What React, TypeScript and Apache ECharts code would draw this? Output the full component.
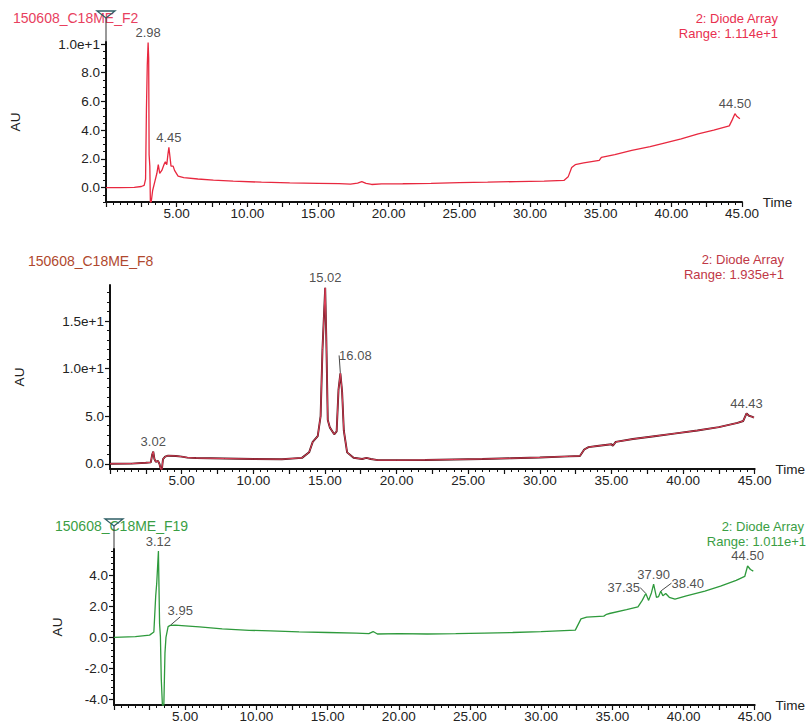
import React, { useEffect, useRef } from "react";
import * as echarts from "echarts";

const FONT = "'Liberation Sans', Arial, sans-serif";

// ---- tick labels ----
const X_LABELS = [5, 10, 15, 20, 25, 30, 35, 40, 45];
const F2_Y_LABELS = [0, 2, 4, 6, 8, 10];
const F8_Y_LABELS = [0, 5, 10, 15];
const F19_Y_LABELS = [-4, -2, 0, 2, 4];

// ---- peak labels (retention times) ----
const F2_PEAKS = [2.98, 4.45, 44.5];
const F8_PEAKS = [3.02, 15.02, 16.08, 44.43];
const F19_PEAKS = [3.12, 3.95, 37.35, 37.9, 38.4, 44.5];

// ---- traces [time (min), AU] ----
const F2_TRACE = [
  [0, 0.0], [1, 0.0], [2, 0.02], [2.5, 0.08], [2.7, 0.15], [2.8, 0.6], [2.86, 5.4], [2.92, 8.5],
  [2.98, 10.1], [3.02, 9.0], [3.05, 2.3], [3.1, 1.5], [3.14, -1.0], [3.2, -1.0], [3.3, -0.2],
  [3.45, 0.4], [3.6, 1.0], [3.7, 1.6], [3.8, 1.0], [3.95, 1.2], [4.1, 1.6], [4.2, 1.8], [4.3, 1.6],
  [4.38, 2.3], [4.45, 2.8], [4.52, 2.2], [4.6, 1.5], [4.75, 1.5], [4.85, 1.2], [5.1, 0.8], [5.5, 0.7],
  [6.5, 0.6], [7.6, 0.52], [9, 0.45], [11, 0.38], [13, 0.33], [15, 0.3], [16.5, 0.28], [17.3, 0.25],
  [17.8, 0.32], [18.1, 0.42], [18.4, 0.3], [18.8, 0.22], [19.5, 0.26], [21, 0.27], [23, 0.3],
  [25, 0.35], [27, 0.38], [29, 0.42], [31, 0.46], [32.4, 0.5], [32.7, 0.75], [32.95, 1.4],
  [33.2, 1.6], [33.8, 1.72], [34.9, 1.9], [35.05, 2.1], [36, 2.3], [37.2, 2.6], [38.5, 2.85],
  [39.5, 3.1], [40.7, 3.4], [41.9, 3.75], [43, 4.0], [44.1, 4.3], [44.3, 4.7], [44.5, 5.15],
  [44.65, 4.95], [44.85, 4.8],
];

const F8_TRACE = [
  [0, 0.0], [1.5, 0.02], [2.5, 0.1], [2.85, 0.15], [2.95, 1.0], [3.02, 1.27], [3.1, 0.5], [3.2, 0.2],
  [3.35, 0.3], [3.45, 0.0], [3.55, -0.6], [3.62, -0.6], [3.7, 0.5], [3.85, 0.75], [4.05, 0.85],
  [4.6, 0.82], [5.0, 0.75], [5.4, 0.65], [6, 0.6], [8, 0.55], [10, 0.5], [12, 0.48], [13.4, 0.62],
  [13.9, 1.2], [14.15, 2.3], [14.5, 2.9], [14.7, 5.0], [14.83, 12.0], [15.02, 18.5], [15.1, 13.0],
  [15.2, 4.6], [15.35, 3.8], [15.65, 3.1], [15.82, 3.4], [15.95, 7.8], [16.08, 9.5], [16.2, 7.6],
  [16.32, 3.5], [16.55, 1.2], [17.0, 0.63], [17.6, 0.5], [17.9, 0.62], [18.2, 0.5], [18.7, 0.38],
  [20, 0.38], [22, 0.4], [24, 0.45], [26, 0.5], [28, 0.58], [30, 0.66], [32, 0.78], [32.8, 0.82],
  [33.1, 1.5], [33.4, 1.75], [34, 1.87], [35, 2.05], [35.1, 1.9], [35.3, 2.3], [36.5, 2.6],
  [38, 2.9], [39.5, 3.2], [41, 3.5], [42.5, 3.85], [43.8, 4.3], [44.2, 4.5], [44.43, 5.3],
  [44.6, 5.05], [44.8, 4.95], [44.95, 4.85],
];

const F19_TRACE = [
  [0, 0.0], [1.5, 0.05], [2.5, 0.15], [2.8, 0.35], [2.93, 2.7], [3.0, 3.5], [3.12, 5.6], [3.2, 0.9],
  [3.26, 0.05], [3.32, -2.7], [3.4, -4.4], [3.5, -4.4], [3.58, -1.0], [3.65, 0.0], [3.8, 0.7],
  [3.95, 0.78], [4.3, 0.8], [5, 0.75], [6, 0.68], [7.6, 0.56], [9.5, 0.46], [11, 0.42], [13, 0.36],
  [15, 0.32], [17, 0.28], [17.9, 0.25], [18.2, 0.38], [18.5, 0.22], [20, 0.25], [22, 0.22],
  [24, 0.24], [26, 0.28], [28, 0.32], [30, 0.37], [32.4, 0.47], [32.8, 1.2], [33.2, 1.31],
  [34.4, 1.38], [34.6, 1.5], [34.8, 1.55], [36, 1.8], [36.8, 1.98], [37.1, 2.4], [37.35, 2.85],
  [37.55, 2.4], [37.75, 2.9], [37.9, 3.45], [38.1, 2.6], [38.25, 2.65], [38.4, 3.0], [38.55, 2.7],
  [38.75, 2.85], [39.0, 2.6], [39.4, 2.48], [40.2, 2.69], [41.5, 3.0], [42.6, 3.32], [43.7, 3.7],
  [44.3, 3.95], [44.5, 4.63], [44.7, 4.4], [44.9, 4.3],
];

// label displacement (style) for labels with a leader line
const LABEL_SHIFT: Record<string, [number, number]> = {
  "16.08": [15, -8],
  "3.95": [10, -5],
  "37.35": [-22, 4],
  "38.40": [27, 2],
};

function range(a: number, b: number, step: number) {
  const out: number[] = [];
  for (let v = a; v <= b + 1e-9; v += step) out.push(Math.round(v * 1000) / 1000);
  return out;
}

function xAxes(gi: number) {
  const major = {
    type: "value", gridIndex: gi, min: 0, max: 45, position: "bottom",
    axisLine: { onZero: false, lineStyle: { color: "#111", width: 2 } },
    axisTick: { customValues: range(0, 45, 2.5), length: 5, lineStyle: { color: "#111", width: 1.2 } },
    axisLabel: {
      customValues: X_LABELS, formatter: (v: number) => v.toFixed(2),
      fontSize: 13.5, color: "#222", margin: 4, fontFamily: FONT,
    },
    splitLine: { show: false },
    name: "Time", nameLocation: "end", nameGap: 5,
    nameTextStyle: { fontSize: 13.5, color: "#222", fontFamily: FONT },
  };
  const minor = {
    type: "value", gridIndex: gi, min: 0, max: 45, position: "bottom",
    axisLine: { show: false, onZero: false },
    axisTick: { customValues: range(0, 45, 0.5), length: 3, lineStyle: { color: "#111", width: 1 } },
    axisLabel: { show: false },
    splitLine: { show: false },
  };
  return [major, minor];
}

function yAxes(gi: number, min: number, max: number, labels: number[], fmt: (v: number) => string, minorStep: number, start: number, gap: number) {
  const major = {
    type: "value", gridIndex: gi, min, max, position: "left",
    axisLine: { onZero: false, lineStyle: { color: "#111", width: 2 } },
    axisTick: { customValues: labels, length: 5, lineStyle: { color: "#111", width: 1.2 } },
    axisLabel: { customValues: labels, formatter: fmt, fontSize: 13.5, color: "#222", margin: 6, fontFamily: FONT },
    splitLine: { show: false },
    name: "AU", nameLocation: "middle", nameGap: gap,
    nameTextStyle: { fontSize: 13.5, color: "#222", fontFamily: FONT },
  };
  const minor = {
    type: "value", gridIndex: gi, min, max, position: "left",
    axisLine: { show: false, onZero: false },
    axisTick: { customValues: range(start, max, minorStep), length: 3, lineStyle: { color: "#111", width: 1 } },
    axisLabel: { show: false },
    splitLine: { show: false },
  };
  return [major, minor];
}

function peakSeries(trace: number[][], peaks: number[], axis: number) {
  const data = peaks.map((t) => {
    const pt = trace.find((p) => Math.abs(p[0] - t) < 1e-6) as number[];
    const text = t.toFixed(2);
    const shifted = !!LABEL_SHIFT[text];
    return {
      value: pt,
      label: { formatter: text },
      labelLine: { show: shifted },
    };
  });
  return {
    type: "scatter", xAxisIndex: axis, yAxisIndex: axis, data,
    symbol: "circle", symbolSize: 1, itemStyle: { color: "rgba(0,0,0,0)" },
    silent: true, z: 5,
    label: { show: true, position: "top", distance: 3, fontSize: 13, color: "#222", fontFamily: FONT },
    labelLine: { show: false, lineStyle: { color: "#333", width: 0.9 } },
    labelLayout: (p: any) => {
      const s = LABEL_SHIFT[p.text];
      return s ? { dx: s[0], dy: s[1] } : {};
    },
  };
}

const fmt1 = (v: number) => v.toFixed(1);

export default function App() {
  const ref = useRef<HTMLDivElement>(null);
  useEffect(() => {
    if (!ref.current) return;
    const chart = echarts.init(ref.current, undefined, { renderer: "svg" });
    const titleStyle = (text: string, x: number, y: number, fill: string, align: string, size = 14) => ({
      type: "text", x, y,
      style: { text, fill, fontSize: size, fontFamily: FONT, textAlign: align, textVerticalAlign: "middle" },
    });
    const tri = (cx: number, top: number, axisTop: number) => [
      { type: "line", shape: { x1: cx, y1: top + 7, x2: cx, y2: axisTop }, style: { stroke: "#333", lineWidth: 1 } },
      {
        type: "polygon", shape: { points: [[cx - 9, top], [cx + 9, top], [cx, top + 7]] },
        style: { fill: "none", stroke: "#2f5f66", lineWidth: 1.3 },
      },
    ];
    const option: any = {
      animation: false,
      backgroundColor: "#fff",
      textStyle: { fontFamily: FONT },
      grid: [
        { left: 106, top: 42, width: 636, height: 160 },
        { left: 110, top: 285, width: 646, height: 184 },
        { left: 114, top: 549, width: 650, height: 159 },
      ],
      xAxis: [...xAxes(0), ...xAxes(1), ...xAxes(2)],
      yAxis: [
        ...yAxes(0, -1.0, 10.14, F2_Y_LABELS, (v) => (v === 10 ? "1.0e+1" : fmt1(v)), 0.5, -1.0, 84),
        ...yAxes(1, -0.55, 18.8, F8_Y_LABELS, (v) => (v === 10 ? "1.0e+1" : v === 15 ? "1.5e+1" : fmt1(v)), 1, 0, 84),
        ...yAxes(2, -4.38, 5.73, F19_Y_LABELS, fmt1, 0.4, -4.0, 50),
      ],
      series: [
        {
          type: "line", xAxisIndex: 0, yAxisIndex: 0, data: F2_TRACE, showSymbol: false, symbol: "none",
          lineStyle: { color: "#e8283f", width: 1.3 }, silent: true,
        },
        peakSeries(F2_TRACE, F2_PEAKS, 0),
        {
          type: "line", xAxisIndex: 2, yAxisIndex: 2, data: F8_TRACE, showSymbol: false, symbol: "none",
          lineStyle: { color: "#4a1418", width: 1.9 }, silent: true,
        },
        {
          type: "line", xAxisIndex: 2, yAxisIndex: 2, data: F8_TRACE, showSymbol: false, symbol: "none",
          lineStyle: { color: "#e0405a", width: 1.0 }, silent: true,
        },
        peakSeries(F8_TRACE, F8_PEAKS, 2),
        {
          type: "line", xAxisIndex: 4, yAxisIndex: 4, data: F19_TRACE, showSymbol: false, symbol: "none",
          lineStyle: { color: "#2e9a3c", width: 1.3 }, silent: true,
        },
        peakSeries(F19_TRACE, F19_PEAKS, 4),
      ],
      graphic: [
        titleStyle("150608_C18ME_F2", 13, 18, "#e8405e", "left"),
        titleStyle("2: Diode Array", 778, 18, "#e8304f", "right", 13),
        titleStyle("Range: 1.114e+1", 778, 33, "#e8304f", "right", 13),
        titleStyle("150608_C18ME_F8", 28, 261, "#b0482e", "left"),
        titleStyle("2: Diode Array", 784, 259, "#c03846", "right", 13),
        titleStyle("Range: 1.935e+1", 784, 274, "#c03846", "right", 13),
        titleStyle("150608_C18ME_F19", 55, 526, "#3a9e44", "left"),
        titleStyle("2: Diode Array", 804, 526, "#3a9e44", "right", 13),
        titleStyle("Range: 1.011e+1", 806, 541, "#3a9e44", "right", 13),
        ...tri(106, 11, 42),
        ...tri(114, 519, 549),
      ],
    };
    chart.setOption(option);
    return () => chart.dispose();
  }, []);
  return (
    <div
      ref={ref}
      style={{ position: "absolute", left: 0, top: 0, width: 806, height: 723, background: "#fff" }}
    />
  );
}
